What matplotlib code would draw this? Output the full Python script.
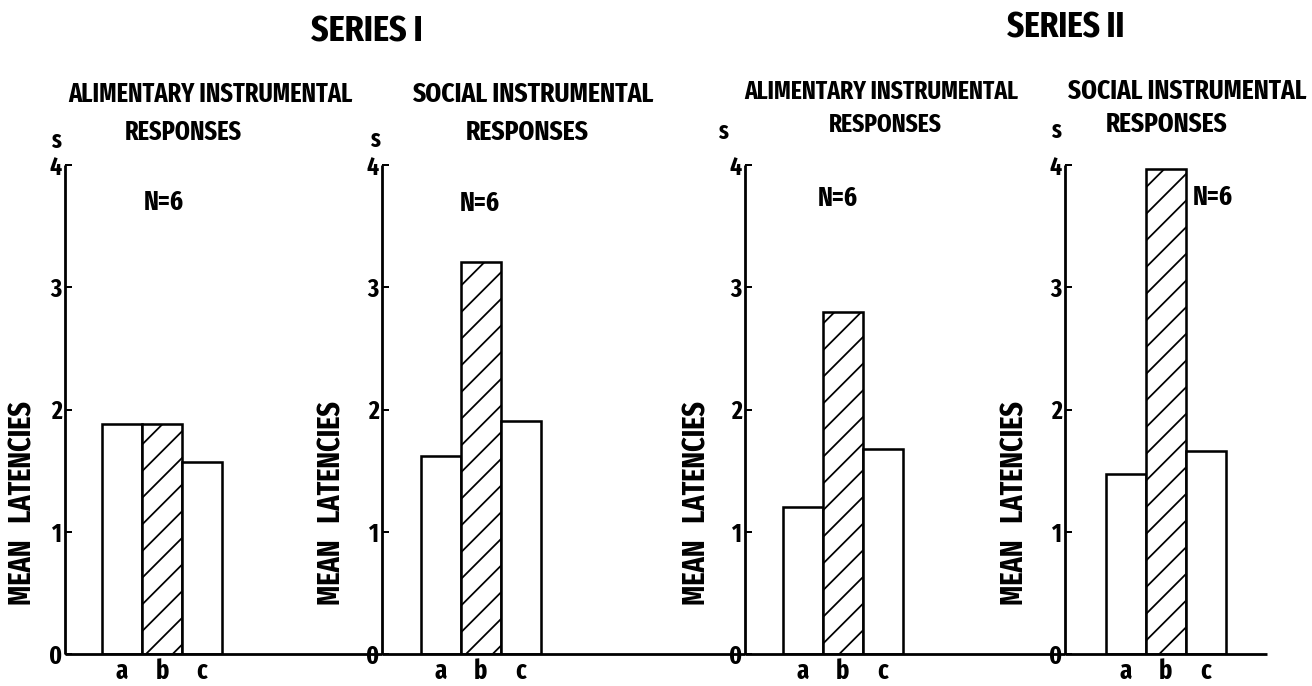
import matplotlib
matplotlib.use("Agg")
import matplotlib.pyplot as plt
from matplotlib import font_manager as fm
from matplotlib.font_manager import FontProperties

# ---------------- data ----------------
categories = ["a", "b", "c"]
series_titles = ["SERIES I", "SERIES II"]
panel_title_top = ["ALIMENTARY INSTRUMENTAL", "SOCIAL INSTRUMENTAL",
                   "ALIMENTARY INSTRUMENTAL", "SOCIAL INSTRUMENTAL"]
panel_title_bottom = ["RESPONSES", "RESPONSES", "RESPONSES", "RESPONSES"]
alimentary_series1 = [1.88, 1.88, 1.57]
social_series1 = [1.62, 3.21, 1.91]
alimentary_series2 = [1.20, 2.80, 1.68]
social_series2 = [1.47, 3.97, 1.66]
panel_values = [alimentary_series1, social_series1, alimentary_series2, social_series2]
n_labels = ["N=6", "N=6", "N=6", "N=6"]
y_ticks = [0, 1, 2, 3, 4]
y_label = "MEAN   LATENCIES"
unit_label = "s"
bar_hatches = ["", "/", ""]


# ---------------- font: prefer a condensed bold sans ----------------
def _weight(w):
    if isinstance(w, (int, float)):
        return int(w)
    return fm.weight_dict.get(str(w).lower(), 400)


def pick_condensed():
    best = None
    for f in fm.fontManager.ttflist:
        key = (f.name + " " + f.fname.split("/")[-1]).lower().replace(" ", "").replace("-", "").replace("_", "")
        if "mono" in key or ("serif" in key and "sans" not in key):
            continue
        if "italic" in key or "oblique" in key or f.style != "normal":
            continue
        if "extracondensed" in key:
            pr = 0
        elif "semicondensed" in key:
            pr = 3
        elif "condensed" in key or "cond" in key:
            pr = 1
        elif "narrow" in key:
            pr = 2
        else:
            continue
        score = (pr, abs(_weight(f.weight) - 700))
        if best is None or score < best[0]:
            best = (score, f.fname)
    return best[1] if best else None


_path = pick_condensed()
if _path:
    BASE = FontProperties(fname=_path)
else:
    BASE = FontProperties(family=["DejaVu Sans"], weight="bold")


def fp(size):
    p = BASE.copy()
    p.set_size(size)
    return p


plt.rcParams["hatch.linewidth"] = 1.6
plt.rcParams["hatch.color"] = "black"

# ---------------- layout ----------------
W, H = 1312, 686
DPI = 80
fig = plt.figure(figsize=(W / DPI, H / DPI), dpi=DPI)
fig.patch.set_facecolor("white")
renderer = fig.canvas.get_renderer()

axis_x = [65, 382, 745, 1065, 1267]      # y-axis pixel positions (last = end of baseline)
bar_offset = [57, 58.5, 57.5, 60.5]      # px from y-axis to centre of first bar
bar_px = 40.0                            # bar width in px
y0_px, ytop_px = 654, 165                # pixel rows of value 0 and value 4


def fx(x):
    return x / W


def fy(y):
    return 1 - y / H


for i in range(4):
    left = axis_x[i]
    width = axis_x[i + 1] - axis_x[i]
    ax = fig.add_axes([fx(left), fy(y0_px), width / W, (y0_px - ytop_px) / H])
    ax.set_facecolor("none")
    xs = list(range(len(categories)))
    bars = ax.bar(xs, panel_values[i], width=1.0, color="white",
                  edgecolor="black", linewidth=2.3, zorder=2)
    for b, h in zip(bars, bar_hatches):
        b.set_hatch(h)
        b.set_joinstyle("miter")
    ax.set_xlim(-bar_offset[i] / bar_px, (width - bar_offset[i]) / bar_px)
    ax.set_ylim(0, 4)
    ax.set_yticks(y_ticks)
    ax.set_yticklabels([str(t) for t in y_ticks], fontproperties=fp(23))
    ax.set_xticks(xs)
    ax.set_xticklabels(categories, fontproperties=fp(24))
    for s in ("top", "right"):
        ax.spines[s].set_visible(False)
    for s in ("left", "bottom"):
        ax.spines[s].set_linewidth(2.5)
        ax.spines[s].set_capstyle("butt")
    ax.tick_params(axis="y", direction="in", length=6, width=1.8, pad=3)
    ax.tick_params(axis="x", length=0, pad=4)


def fit_size(s, target_w, max_pt):
    """Largest size <= max_pt at which the (unrotated) text is no wider than target_w px."""
    t = fig.text(0, 0, s, fontproperties=fp(max_pt))
    bb = t.get_window_extent(renderer)
    t.remove()
    return max_pt * min(1.0, target_w / bb.width)


# series titles
series_x = [367, 1066]
series_y = [42, 37]
series_w = [112, 118]
for txt, x, yb, w in zip(series_titles, series_x, series_y, series_w):
    fig.text(fx(x), fy(yb), txt, ha="center", va="baseline",
             fontproperties=fp(fit_size(txt, w, 40)))

# panel titles (both lines of a panel share one size)
title1_x = [210, 533, 881, 1187]
title1_y = [102, 102, 99, 99]
title1_w = [283, 241, 274, 238]
title2_x = [183, 527, 885, 1167]
title2_y = [140, 140, 132, 132]
for i in range(4):
    size = fit_size(panel_title_top[i], title1_w[i], 33)
    fig.text(fx(title1_x[i]), fy(title1_y[i]), panel_title_top[i], ha="center",
             va="baseline", fontproperties=fp(size))
    fig.text(fx(title2_x[i]), fy(title2_y[i]), panel_title_bottom[i], ha="center",
             va="baseline", fontproperties=fp(size))

# unit labels "s"
unit_x = [56, 375, 723, 1056]
unit_y = [148, 147, 139, 138]
for x, y in zip(unit_x, unit_y):
    fig.text(fx(x), fy(y), unit_label, ha="center", va="baseline",
             fontproperties=fp(22))

# N=6 labels
n_x = [164, 480, 838, 1193]
n_y = [210, 211, 206, 205]
n_ha = ["center", "center", "center", "left"]
for i in range(4):
    fig.text(fx(n_x[i]), fy(n_y[i]), n_labels[i], ha=n_ha[i], va="baseline",
             fontproperties=fp(fit_size(n_labels[i], 40, 29)))

# y-axis labels
ylab_x = [23, 332, 697, 1015]
ysize = fit_size(y_label, 204, 36)
for x in ylab_x:
    fig.text(fx(x), fy(503), y_label, ha="center", va="center", rotation=90,
             fontproperties=fp(ysize))

fig.savefig("out.png", dpi=DPI, facecolor="white")
